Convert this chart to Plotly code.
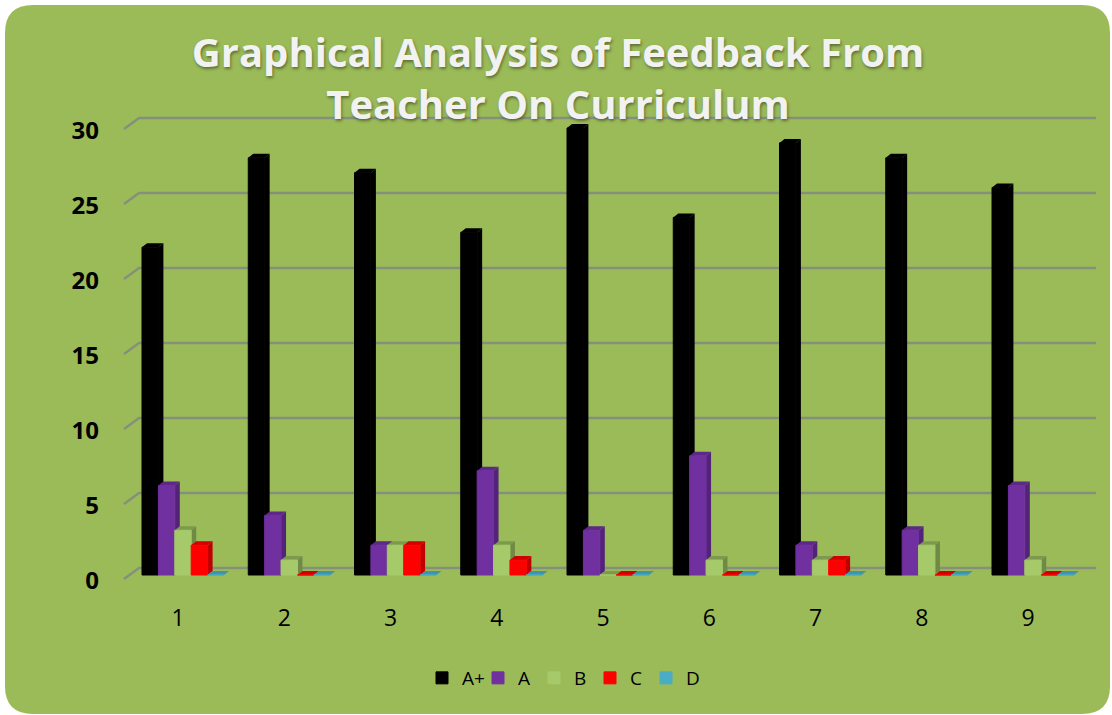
import plotly.graph_objects as go

categories = [1, 2, 3, 4, 5, 6, 7, 8, 9]
series_names = ["A+", "A", "B", "C", "D"]
a_plus = [22, 28, 27, 23, 30, 24, 29, 28, 26]
a_grade = [6, 4, 2, 7, 3, 8, 2, 3, 6]
b_grade = [3, 1, 2, 2, 0, 1, 1, 2, 1]
c_grade = [2, 0, 2, 1, 0, 0, 1, 0, 0]
d_grade = [0, 0, 0, 0, 0, 0, 0, 0, 0]
y_ticks = [0, 5, 10, 15, 20, 25, 30]
title_text = "Graphical Analysis of Feedback From<br>Teacher On Curriculum"

W, H = 1112, 715
L, R, T, B = 120, 1102, 110, 585      # plot area in px
PX_X = 106.25                         # px per category
PX_Y = 15.0                           # px per value unit on the walls
PX_BAR = 14.9                         # px per value unit on the bars' plane
x_range = [1 + (L - 178) / PX_X, 1 + (R - 178) / PX_X]
bar_range = [(575 - B) / PX_BAR, (575 - T) / PX_BAR]   # bars: 0 sits at y=575
wall_range = [(581 - B) / PX_Y, (581 - T) / PX_Y]      # labels / walls: 0 sits at y=581

bar_w = 16.4 / PX_X
dx, dy = 5 / PX_X, 4 / PX_BAR
wall_dx, wall_dy = 15 / PX_X, 13 / PX_Y
wall_front = 2 / PX_Y

front = ["#000000", "#7030A0", "#A6C96A", "#FF0000", "#4BACC6"]
side = ["#000000", "#53237A", "#6F8A45", "#BE0000", "#37839A"]
top = ["#000000", "#5E2887", "#7C9A4E", "#D00000", "#3F94AD"]
values = [a_plus, a_grade, b_grade, c_grade, d_grade]
offsets = [-36, -19.6, -3.2, 13.2, 29.6]

fig = go.Figure()

# Back wall gridlines with the short diagonal on the left side wall
gx, gy = [], []
for v in y_ticks:
    gx += [x_range[0] + 4 / PX_X, x_range[0] + 4 / PX_X + wall_dx, x_range[1] - 6 / PX_X, None]
    gy += [v + wall_front, v + wall_dy, v + wall_dy, None]
fig.add_trace(go.Scatter(x=gx, y=gy, mode="lines", yaxis="y", showlegend=False, hoverinfo="skip",
                         line=dict(color="#85907A", width=2.4)))

for i, (name, vals) in enumerate(zip(series_names, values)):
    off = offsets[i] / PX_X
    sx, sy, tx, ty = [], [], [], []
    for c, v in zip(categories, vals):
        x0, x1 = c + off, c + off + bar_w
        sx += [x1, x1, x1 + dx, x1 + dx, x1, None]
        sy += [0, v, v + dy, dy, 0, None]
        tx += [x0, x1, x1 + dx, x0 + dx, x0, None]
        ty += [v, v, v + dy, v + dy, v, None]
    for px_, py_, col in ((sx, sy, side[i]), (tx, ty, top[i])):
        fig.add_trace(go.Scatter(x=px_, y=py_, mode="lines", fill="toself", fillcolor=col, yaxis="y2",
                                 line=dict(width=0, color=col), showlegend=False, hoverinfo="skip",
                                 zorder=2 * i))
    fig.add_trace(go.Bar(x=categories, y=vals, name=name, width=bar_w, offset=off, yaxis="y2",
                         marker=dict(color=front[i], line=dict(color=front[i], width=1)),
                         zorder=2 * i + 1))

r = 28
def px(x): return (x - L) / (R - L)
def py(y): return (B - y) / (B - T)
x0, x1, y0, y1 = 5, 1110, 5, 714
card = (f"M {px(x0 + r)} {py(y0)} L {px(x1 - r)} {py(y0)} Q {px(x1)} {py(y0)} {px(x1)} {py(y0 + r)} "
        f"L {px(x1)} {py(y1 - r)} Q {px(x1)} {py(y1)} {px(x1 - r)} {py(y1)} "
        f"L {px(x0 + r)} {py(y1)} Q {px(x0)} {py(y1)} {px(x0)} {py(y1 - r)} "
        f"L {px(x0)} {py(y0 + r)} Q {px(x0)} {py(y0)} {px(x0 + r)} {py(y0)} Z")

fig.update_layout(
    width=W, height=H, margin=dict(l=L, r=W - R, t=T, b=H - B, autoexpand=False),
    paper_bgcolor="#FFFFFF", plot_bgcolor="rgba(0,0,0,0)", barmode="overlay",
    title=dict(text=title_text, x=558 / W, xanchor="center", y=1 - 67 / H, yanchor="top",
               font=dict(family="Open Sans", size=40, color="#F2F2F2", weight="bold",
                         shadow="1px 2px 3px rgba(60,70,30,0.65)")),
    xaxis=dict(range=x_range, tickmode="array", tickvals=categories, ticks="", showgrid=False, zeroline=False,
               showline=False, ticklabelstandoff=17, tickfont=dict(family="Open Sans", size=23, color="#000000")),
    yaxis=dict(range=wall_range, tickmode="array", tickvals=y_ticks, ticks="", showgrid=False, zeroline=False,
               showline=False, ticklabelstandoff=20,
               tickfont=dict(family="Open Sans", size=24, color="#000000", weight="bold")),
    yaxis2=dict(range=bar_range, overlaying="y", side="left", visible=False),
    legend=dict(orientation="h", x=562 / W, xref="container", xanchor="center", y=1 - 678 / H, yref="container",
                yanchor="middle", font=dict(family="Open Sans", size=19, color="#000000"),
                entrywidth=11, entrywidthmode="pixels",
                bgcolor="rgba(0,0,0,0)", itemclick=False, itemdoubleclick=False),
    shapes=[dict(type="path", path=card, xref="paper", yref="paper", layer="below",
                 fillcolor="#9BBB59", line=dict(width=0))],
)
fig.write_html("out.html", config=dict(displayModeBar=False),
               post_script="document.body.style.margin='0';document.body.style.overflow='hidden';")
